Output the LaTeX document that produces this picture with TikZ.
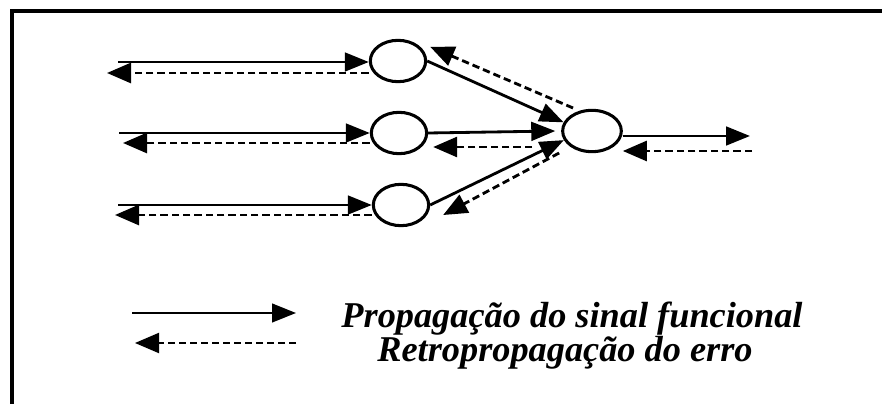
\documentclass[tikz,border=0pt]{standalone}
\usepackage{fontspec}
\setmainfont{Liberation Serif}
\usetikzlibrary{shapes.geometric,arrows.meta}

\begin{document}
\begin{tikzpicture}[x=0.03cm,y=-0.03cm,
	neuron/.style={ellipse,draw,line width=2.6pt,minimum width=1.66cm,minimum height=1.24cm,inner sep=0pt},
	sinal/.style={line width=2.4pt,-{Triangle[length=0.72cm,width=0.56cm]}},
	erro/.style={line width=2.4pt,dash pattern=on 0.22cm off 0.12cm,-{Triangle[length=0.72cm,width=0.6cm]}},
	legenda/.style={font=\fontsize{31}{36}\selectfont\bfseries\itshape}]
	\useasboundingbox (0,0) rectangle (882,404);
	% moldura
	\draw[line width=2.6pt] (12,404) -- (12,11) -- (882,11);
	% neuronios
	\node[neuron] (h1) at (398,61) {};
	\node[neuron] (h2) at (399,133) {};
	\node[neuron] (h3) at (401,205) {};
	\node[neuron,minimum width=1.76cm] (out) at (592,131) {};
	% entradas
	\coordinate (x1) at (118,62);
	\coordinate (e1) at (107,73);
	\coordinate (x2) at (119,133);
	\coordinate (e2) at (123,143);
	\coordinate (x3) at (118,205);
	\coordinate (e3) at (115,215);
	\foreach \i in {1,2,3} {
		\draw[sinal] (x\i) -- (x\i -| h\i.west);
		\draw[erro] (h\i.west |- e\i) -- (e\i);
	}
	% camada oculta -> saida
	\draw[sinal] (h1.east) -- (out.163);
	\draw[sinal] (h2.east) -- ([xshift=-5]out.west);
	\draw[sinal] (h3.east) -- (out.198);
	\draw[erro] ([shift={(-3,-4)}]out.130) -- ([shift={(7,-3)}]h1.24);
	\draw[erro] ([shift={(-29,16)}]out.west) -- ([shift={(5,14)}]h2.east);
	\draw[erro] ([shift={(-2,22)}]out.west) -- ([shift={(13,10)}]h3.east);
	% saida
	\coordinate (y) at (750,136);
	\coordinate (ey) at (752,151);
	\draw[sinal] (out.east |- y) -- (y);
	\draw[erro] (ey) -- (ey -| out.east);
	% legenda
	\coordinate (l1) at (132,313);
	\coordinate (l2) at (296,313);
	\coordinate (l3) at (296,343);
	\coordinate (l4) at (135,343);
	\draw[sinal,line width=2pt] (l1) -- (l2);
	\draw[erro,line width=1.8pt,dash pattern=on 0.2cm off 0.13cm] (l3) -- (l4);
	\node[legenda,anchor=base] (t1) at (572,328) {Propagação do sinal funcional};
	\node[legenda,anchor=base] (t2) at (565,362) {Retropropagação do erro};
\end{tikzpicture}
\end{document}
